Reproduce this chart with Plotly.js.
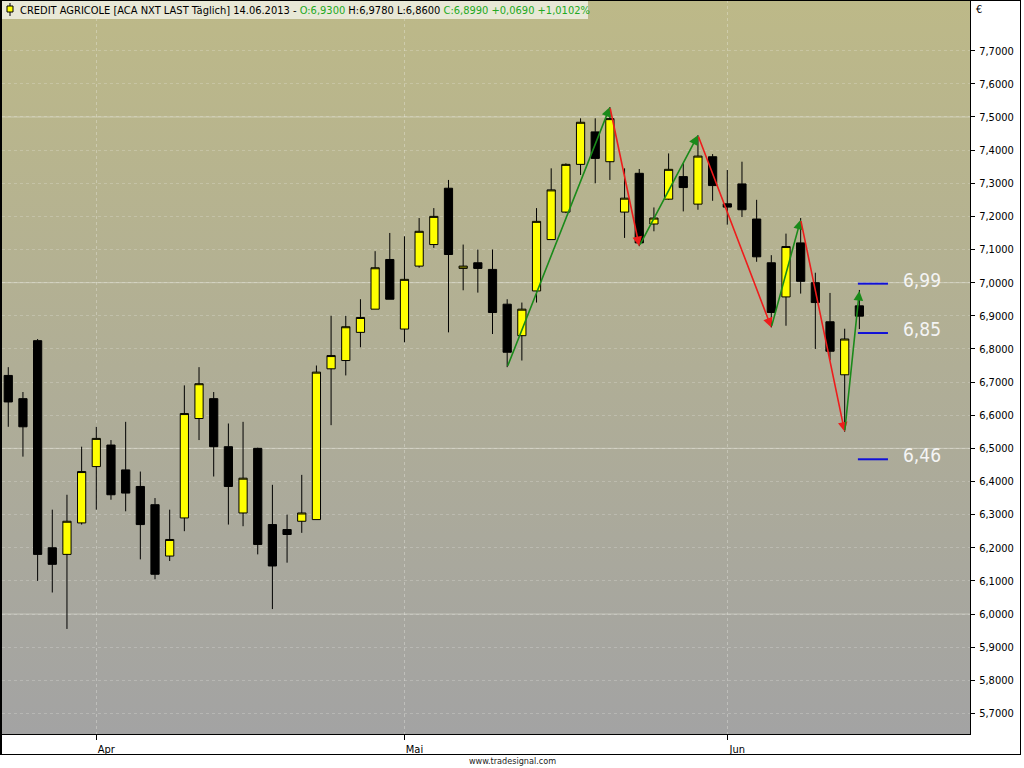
<!DOCTYPE html>
<html>
<head>
<meta charset="utf-8">
<script src="https://cdn.plot.ly/plotly-3.0.1.min.js"></script>
<style>
	body { margin: 0; background: #ffffff; }
	#wrap { position: relative; width: 1024px; height: 768px; overflow: hidden; background: #ffffff; }
	#bg { position: absolute; left: 2px; top: 0; width: 968px; height: 734px;
		background: linear-gradient(to bottom, #bdb988 0%, #b0ae96 50%, #a3a3a3 100%); }
	#myDiv { position: absolute; left: 0; top: 0; width: 1024px; height: 768px; }
	#frame { position: absolute; left: 0; top: 0; width: 1021px; height: 755px; box-sizing: border-box;
		border: 1px solid #000; border-left: 2px solid #000; pointer-events: none; }
</style>
</head>
<body>
<div id="wrap">
	<div id="bg"></div>
	<div id="myDiv"></div>
	<div id="frame"></div>
</div>
<script>
// trading days, 21.03.2013 - 14.06.2013
var dates = [
	"2013-03-21","2013-03-22","2013-03-25","2013-03-26","2013-03-27","2013-03-28",
	"2013-04-02","2013-04-03","2013-04-04","2013-04-05","2013-04-08","2013-04-09","2013-04-10",
	"2013-04-11","2013-04-12","2013-04-15","2013-04-16","2013-04-17","2013-04-18","2013-04-19",
	"2013-04-22","2013-04-23","2013-04-24","2013-04-25","2013-04-26","2013-04-29","2013-04-30",
	"2013-05-02","2013-05-03","2013-05-06","2013-05-07","2013-05-08","2013-05-09","2013-05-10",
	"2013-05-13","2013-05-14","2013-05-15","2013-05-16","2013-05-17","2013-05-20","2013-05-21",
	"2013-05-22","2013-05-23","2013-05-24","2013-05-27","2013-05-28","2013-05-29","2013-05-30",
	"2013-05-31","2013-06-03","2013-06-04","2013-06-05","2013-06-06","2013-06-07","2013-06-10",
	"2013-06-11","2013-06-12","2013-06-13","2013-06-14"
];
var openP = [6.72,6.65,6.825,6.20,6.18,6.275,6.445,6.51,6.435,6.385,6.33,6.175,6.29,6.59,6.65,6.505,
	6.305,6.50,6.27,6.255,6.28,6.285,6.74,6.765,6.85,6.92,7.07,6.86,7.05,7.115,7.285,7.043,7.06,7.04,
	6.935,6.84,6.975,7.13,7.213,7.357,7.455,7.365,7.213,7.33,7.177,7.252,7.32,7.237,7.38,7.238,7.298,
	7.192,7.06,6.957,7.12,7.00,6.882,6.722,6.93];
var highP = [6.745,6.67,6.83,6.315,6.36,6.505,6.565,6.525,6.58,6.43,6.35,6.315,6.69,6.745,6.67,6.575,
	6.58,6.502,6.39,6.30,6.42,6.75,6.90,6.90,6.95,7.095,7.15,7.14,7.195,7.225,7.31,7.115,7.10,7.10,
	6.95,6.94,7.225,7.345,7.36,7.496,7.496,7.53,7.345,7.343,7.227,7.39,7.36,7.445,7.388,7.34,7.365,
	7.25,7.083,7.148,7.195,7.03,6.969,6.861,6.978];
var lowP = [6.565,6.475,6.10,6.065,5.955,6.27,6.315,6.345,6.31,6.165,6.105,6.16,6.25,6.525,6.415,6.27,
	6.265,6.18,6.015,6.155,6.245,6.285,6.57,6.72,6.805,6.92,6.95,6.82,7.045,7.105,6.85,6.977,6.97,6.845,
	6.745,6.765,6.94,7.13,7.21,7.325,7.30,7.31,7.135,7.11,7.155,7.25,7.215,7.22,7.247,7.175,7.198,
	7.063,6.865,6.87,6.967,6.80,6.766,6.55,6.86];
var closeP = [6.64,6.565,6.18,6.15,6.28,6.43,6.53,6.36,6.365,6.27,6.12,6.225,6.605,6.695,6.505,6.385,
	6.41,6.21,6.145,6.24,6.305,6.73,6.78,6.867,6.895,7.045,6.95,7.01,7.155,7.20,7.085,7.05,7.043,6.91,
	6.79,6.92,7.185,7.28,7.357,7.484,7.375,7.495,7.255,7.12,7.195,7.342,7.287,7.382,7.293,7.228,7.22,
	7.078,6.91,7.109,7.004,6.94,6.793,6.83,6.899];

// zigzag swing points (bar index, price)
var zigIdx = [34, 41, 43, 47, 52, 54, 57, 58];
var zigVal = [6.745, 7.53, 7.11, 7.445, 6.865, 7.19, 6.55, 6.975];

// projected levels on the right
var levelVal = [6.997, 6.848, 6.467];
var levelTxt = ["6,99", "6,85", "6,46"];

var monthNames = ["Jan","Feb","Mär","Apr","Mai","Jun","Jul","Aug","Sep","Okt","Nov","Dez"];

var xIdx = dates.map(function(d, i){ return i; });
var tickVals = [], tickText = [];
for (var i = 1; i < dates.length; i++){
	if (dates[i].slice(5,7) != dates[i-1].slice(5,7)){
		tickVals.push(i);
		tickText.push(monthNames[parseInt(dates[i].slice(5,7), 10) - 1]);
	}
}
var yTicks = [];
for (var k = 57; k <= 77; k++) yTicks.push(k / 10);

var fnt = "DejaVu Sans Condensed, Liberation Sans, sans-serif";
function de(v, n){ return v.toFixed(n).replace(".", ","); }

var last = closeP.length - 1;
var chg = closeP[last] - closeP[last-1];
var pct = chg / closeP[last-1] * 100;
var green = "#22a822";
var header = "CREDIT AGRICOLE [ACA NXT LAST Täglich] " +
	dates[last].slice(8,10) + "." + dates[last].slice(5,7) + "." + dates[last].slice(0,4) + " - " +
	"<span style='color:" + green + "'>O:" + de(openP[last],4) + "</span> " +
	"H:" + de(highP[last],4) + " L:" + de(lowP[last],4) + " " +
	"<span style='color:" + green + "'>C:" + de(closeP[last],4) + " +" + de(chg,4) + " +" + de(pct,4) + "%</span>";

var shapes = [];
// solid grid every 0,5
[6.0, 6.5, 7.0, 7.5].forEach(function(v){
	shapes.push({type:'line', xref:'paper', x0:0, x1:1, yref:'y', y0:v, y1:v,
		line:{color:'rgba(235,235,225,0.5)', width:1}, layer:'below'});
});
// level lines
levelVal.forEach(function(v){
	shapes.push({type:'line', xref:'x', x0:57.9, x1:59.95, yref:'y', y0:v, y1:v,
		line:{color:'#1010d8', width:2}});
});
// header box and icon
shapes.push({type:'rect', xref:'paper', xsizemode:'pixel', xanchor:0, x0:0, x1:586,
	yref:'paper', ysizemode:'pixel', yanchor:1, y0:0, y1:-19,
	fillcolor:'rgba(240,240,228,0.85)', line:{width:0}});
shapes.push({type:'line', xref:'paper', xsizemode:'pixel', xanchor:0, x0:8, x1:8,
	yref:'paper', ysizemode:'pixel', yanchor:1, y0:-3, y1:-16, line:{color:'#000', width:1}});
shapes.push({type:'rect', xref:'paper', xsizemode:'pixel', xanchor:0, x0:5, x1:11,
	yref:'paper', ysizemode:'pixel', yanchor:1, y0:-6, y1:-12, fillcolor:'#ffff00', line:{color:'#000', width:1}});

var annotations = [];
for (var z = 1; z < zigIdx.length; z++){
	var up = zigVal[z] > zigVal[z-1];
	annotations.push({x:zigIdx[z], y:zigVal[z], xref:'x', yref:'y',
		ax:zigIdx[z-1], ay:zigVal[z-1], axref:'x', ayref:'y',
		showarrow:true, arrowhead:2, arrowsize:1.2, arrowwidth:1.6,
		arrowcolor: up ? '#1a8a1a' : '#ee1c1c', text:''});
}
levelVal.forEach(function(v, j){
	annotations.push({x:60.85, y:v, xref:'x', yref:'y', xanchor:'left', yanchor:'middle',
		yshift:4, showarrow:false, text:levelTxt[j], font:{family:fnt, size:19, color:'#f4f4f4'}});
});
annotations.push({x:0, y:1, xref:'paper', yref:'paper', xanchor:'left', yanchor:'middle',
	xshift:16, yshift:-10, showarrow:false, text:header, font:{family:fnt, size:11, color:'#000'}});
annotations.push({x:1, y:1, xref:'paper', yref:'paper', xanchor:'left', yanchor:'middle',
	xshift:4, yshift:-9, showarrow:false, text:'€', font:{family:fnt, size:11, color:'#000'}});
annotations.push({x:0.527, y:-0.037, xref:'paper', yref:'paper', xanchor:'center', yanchor:'middle',
	showarrow:false, text:'www.tradesignal.com', font:{family:fnt, size:9, color:'#222'}});

var data = [{
	type: 'candlestick',
	x: xIdx,
	open: openP,
	high: highP,
	low: lowP,
	close: closeP,
	whiskerwidth: 0,
	line: {width: 1},
	increasing: {line: {color: '#000000', width: 1}, fillcolor: '#ffff00'},
	decreasing: {line: {color: '#000000', width: 1}, fillcolor: '#000000'},
	hoverinfo: 'skip',
	showlegend: false
}];

var layout = {
	width: 1024,
	height: 768,
	margin: {l: 2, r: 54, t: 0, b: 34, pad: 0},
	paper_bgcolor: 'rgba(0,0,0,0)',
	plot_bgcolor: 'rgba(0,0,0,0)',
	separators: ',.',
	boxgap: 0.2,
	font: {family: fnt, size: 11, color: '#000'},
	showlegend: false,
	xaxis: {
		type: 'linear',
		range: [-0.427, 65.54],
		rangeslider: {visible: false},
		tickmode: 'array',
		tickvals: tickVals,
		ticktext: tickText,
		ticks: 'outside',
		ticklen: 5,
		tickcolor: '#000',
		ticklabelshift: 10,
		tickfont: {family: fnt, size: 11, color: '#000'},
		showgrid: true,
		gridcolor: 'rgba(240,240,235,0.35)',
		griddash: 'dot',
		zeroline: false,
		showline: true,
		linecolor: '#000',
		linewidth: 1,
		fixedrange: true
	},
	yaxis: {
		side: 'right',
		range: [5.638, 7.853],
		tickmode: 'array',
		tickvals: yTicks,
		tickformat: '.4f',
		ticks: 'outside',
		ticklen: 4,
		tickcolor: '#000',
		ticklabelstandoff: 2,
		tickfont: {family: fnt, size: 11, color: '#000'},
		showgrid: true,
		gridcolor: 'rgba(240,240,235,0.25)',
		griddash: 'dot',
		zeroline: false,
		showline: true,
		linecolor: '#000',
		linewidth: 1,
		fixedrange: true
	},
	shapes: shapes,
	annotations: annotations
};

Plotly.newPlot('myDiv', data, layout, {staticPlot: true, displayModeBar: false});
</script>
</body>
</html>
